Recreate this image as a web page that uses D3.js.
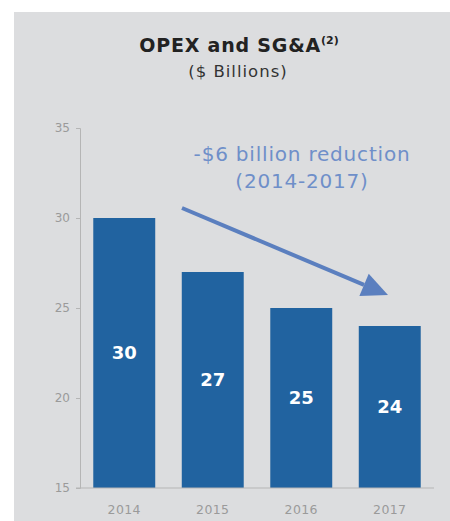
<!DOCTYPE html>
<html><head><meta charset="utf-8">
<script src="https://cdn.jsdelivr.net/npm/d3@7"></script>
<style>body{margin:0;background:#fff}svg{display:block}</style>
</head><body>
<script>
const categories = ["2014","2015","2016","2017"];
const values = [30,27,25,24];
const yTicks = [15,20,25,30,35];

const W=450,H=521;
const svg=d3.select("body").append("svg").attr("width",W).attr("height",H);
svg.append("rect").attr("x",14).attr("y",12).attr("width",W-14).attr("height",H-12).attr("fill","#dcdddf");

const font="'DejaVu Sans', sans-serif";
const x=d3.scaleBand().domain(categories).range([80,434]).paddingInner(0.3).paddingOuter(0.15);
const y=d3.scaleLinear().domain([15,35]).range([488,128]);

// title
svg.append("text").attr("x",239).attr("y",52).attr("text-anchor","middle")
  .attr("font-family",font).attr("font-weight","bold").attr("font-size",19).attr("letter-spacing",0.8).attr("fill","#222")
  .text("OPEX and SG&A").append("tspan").attr("font-size",11).attr("dy",-8).attr("letter-spacing",0).text("(2)");
svg.append("text").attr("x",238).attr("y",77).attr("text-anchor","middle")
  .attr("font-family",font).attr("font-size",16.5).attr("letter-spacing",1).attr("fill","#333").text("($ Billions)");

// y axis
const ya=svg.append("g").attr("transform","translate(80,0)")
  .call(d3.axisLeft(y).tickValues(yTicks).tickSize(4).tickPadding(6));
ya.select(".domain").attr("stroke","#b5b5b5");
ya.selectAll(".tick line").attr("stroke","#b5b5b5");
ya.selectAll(".tick text").attr("fill","#9a9a9a").attr("font-family",font).attr("font-size",12);

// bars
svg.append("g").selectAll("rect").data(values).join("rect")
  .attr("x",(d,i)=>x(categories[i])).attr("width",x.bandwidth())
  .attr("y",d=>y(d)).attr("height",d=>y(15)-y(d)).attr("fill","#2163a0");

// baseline
svg.append("line").attr("x1",76).attr("x2",434).attr("y1",y(15)).attr("y2",y(15)).attr("stroke","#b5b5b5");

// value labels
svg.append("g").selectAll("text").data(values).join("text")
  .attr("x",(d,i)=>x(categories[i])+x.bandwidth()/2).attr("y",d=>(y(d)+y(15))/2+6)
  .attr("text-anchor","middle").attr("font-family",font).attr("font-weight","bold")
  .attr("font-size",18).attr("fill","#fff").text(d=>d);

// x labels
svg.append("g").selectAll("text").data(categories).join("text")
  .attr("x",d=>x(d)+x.bandwidth()/2).attr("y",514).attr("text-anchor","middle")
  .attr("font-family",font).attr("font-size",12.5).attr("letter-spacing",0.4).attr("fill","#9a9a9a").text(d=>d);

// annotation
const ann=svg.append("text").attr("text-anchor","middle").attr("font-family",font)
  .attr("font-size",20).attr("letter-spacing",0.8).attr("fill","#6f8fc9");
ann.append("tspan").attr("x",302).attr("y",161).text("-$6 billion reduction");
ann.append("tspan").attr("x",302).attr("y",188).text("(2014-2017)");

// arrow
const x0=182,y0=208,x1=388,y1=295;
const ang=Math.atan2(y1-y0,x1-x0);
const hl=26,hw=12;
const bx=x1-hl*Math.cos(ang),by=y1-hl*Math.sin(ang);
svg.append("line").attr("x1",x0).attr("y1",y0).attr("x2",bx).attr("y2",by)
  .attr("stroke","#5b7fbf").attr("stroke-width",4);
svg.append("path").attr("d",`M${x1},${y1}L${bx+hw*Math.sin(ang)},${by-hw*Math.cos(ang)}L${bx-hw*Math.sin(ang)},${by+hw*Math.cos(ang)}Z`)
  .attr("fill","#5b7fbf");
</script>
</body></html>
